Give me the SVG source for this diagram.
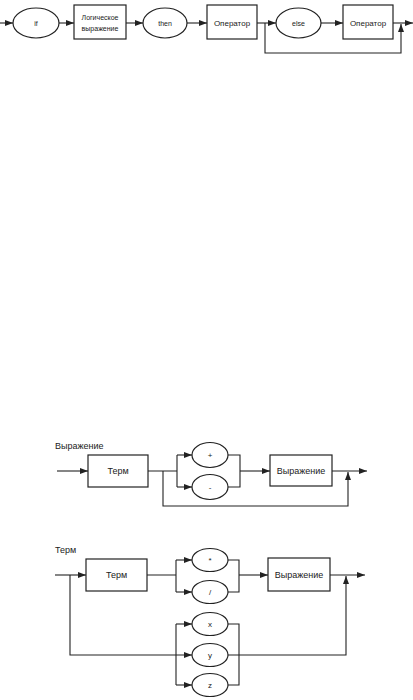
<svg xmlns="http://www.w3.org/2000/svg" width="413" height="700" viewBox="0 0 413 700">
<style>
.n{fill:#fff;stroke:#222;stroke-width:1.2}
.c{fill:none;stroke:#222;stroke-width:1.1}
.a{marker-end:url(#ah)}
text{font-family:"Liberation Sans",Arial,sans-serif;fill:#222;text-anchor:middle}
.t7{font-size:7px}
.t8{font-size:8px}
.t9{font-size:9px}
.lbl{text-anchor:start}
</style>
<defs>
<marker id="ah" markerWidth="8" markerHeight="6" refX="8" refY="3" orient="auto" markerUnits="userSpaceOnUse">
<path d="M0,0 L8,3 L0,6 z" fill="#222"/>
</marker>
</defs>
<rect width="413" height="700" fill="#fff"/>
<g id="connectors">
<path class="c a" d="M0,23 H13"/>
<path class="c a" d="M59,23 H74"/>
<path class="c a" d="M126,23 H143"/>
<path class="c a" d="M187,23 H207"/>
<path class="c a" d="M257,23 H276"/>
<path class="c a" d="M321,23 H343"/>
<path class="c a" d="M393,23 H413"/>
<path class="c a" d="M265,23 V53 H401 V24"/>
<path class="c a" d="M57,471 H88"/>
<path class="c" d="M148,471 H177 M177,455 V487"/>
<path class="c a" d="M177,455 H192"/>
<path class="c a" d="M177,487 H192"/>
<path class="c" d="M228,455 H240 V487 H228"/>
<path class="c a" d="M240,471 H270"/>
<path class="c a" d="M332,471 H367"/>
<path class="c a" d="M163,471 V506 H348 V472"/>
<path class="c a" d="M55,575 H86"/>
<path class="c" d="M147,575 H176 M176,560 V592"/>
<path class="c a" d="M176,560 H192"/>
<path class="c a" d="M176,592 H192"/>
<path class="c" d="M228,560 H239 V592 H228"/>
<path class="c a" d="M239,575 H268"/>
<path class="c a" d="M330,575 H365"/>
<path class="c a" d="M70,575 V655 H192"/>
<path class="c" d="M176,624 V685"/>
<path class="c a" d="M176,624 H192"/>
<path class="c a" d="M176,685 H192"/>
<path class="c" d="M228,624 H239 V685 H228"/>
<path class="c a" d="M228,655 H346 V576"/>
</g>
<g id="if"><ellipse class="n" cx="36" cy="23" rx="23" ry="15"/><text class="t7" x="36" y="25.5">if</text></g>
<g id="logexpr"><rect class="n" x="74" y="5" width="52" height="34"/><text class="t7" x="100" y="20">Логическое</text><text class="t7" x="100" y="31">выражение</text></g>
<g id="then"><ellipse class="n" cx="165" cy="23" rx="22" ry="15"/><text class="t7" x="165" y="25.5">then</text></g>
<g id="op1"><rect class="n" x="207" y="5" width="50" height="34"/><text class="t8" x="232" y="25.5">Оператор</text></g>
<g id="else"><ellipse class="n" cx="298.5" cy="23" rx="22.5" ry="15"/><text class="t7" x="298.5" y="25.5">else</text></g>
<g id="op2"><rect class="n" x="343" y="5" width="50" height="34"/><text class="t8" x="368" y="25.5">Оператор</text></g>
<g id="label-expr"><text class="t9 lbl" x="55" y="449">Выражение</text></g>
<g id="term1"><rect class="n" x="88" y="455" width="60" height="32"/><text class="t9" x="118" y="474">Терм</text></g>
<g id="plus"><ellipse class="n" cx="210" cy="455" rx="18" ry="12.5"/><text class="t8" x="210" y="458">+</text></g>
<g id="minus"><ellipse class="n" cx="210" cy="487" rx="18" ry="12.5"/><text class="t8" x="210" y="490">-</text></g>
<g id="expr1"><rect class="n" x="270" y="455" width="62" height="31"/><text class="t9" x="301" y="474">Выражение</text></g>
<g id="label-term"><text class="t9 lbl" x="55" y="553">Терм</text></g>
<g id="term2"><rect class="n" x="86" y="559" width="61" height="32"/><text class="t9" x="116.5" y="578">Терм</text></g>
<g id="mul"><ellipse class="n" cx="210" cy="560" rx="18" ry="11.5"/><text class="t8" x="210" y="563">*</text></g>
<g id="div"><ellipse class="n" cx="210" cy="592" rx="18" ry="11.5"/><text class="t8" x="210" y="595">/</text></g>
<g id="expr2"><rect class="n" x="268" y="558" width="62" height="33"/><text class="t9" x="299" y="578">Выражение</text></g>
<g id="x"><ellipse class="n" cx="210" cy="624" rx="18" ry="11.5"/><text class="t8" x="210" y="627">x</text></g>
<g id="y"><ellipse class="n" cx="210" cy="655" rx="18" ry="11.5"/><text class="t8" x="210" y="658">y</text></g>
<g id="z"><ellipse class="n" cx="210" cy="685" rx="18" ry="11.5"/><text class="t8" x="210" y="688">z</text></g>
</svg>
